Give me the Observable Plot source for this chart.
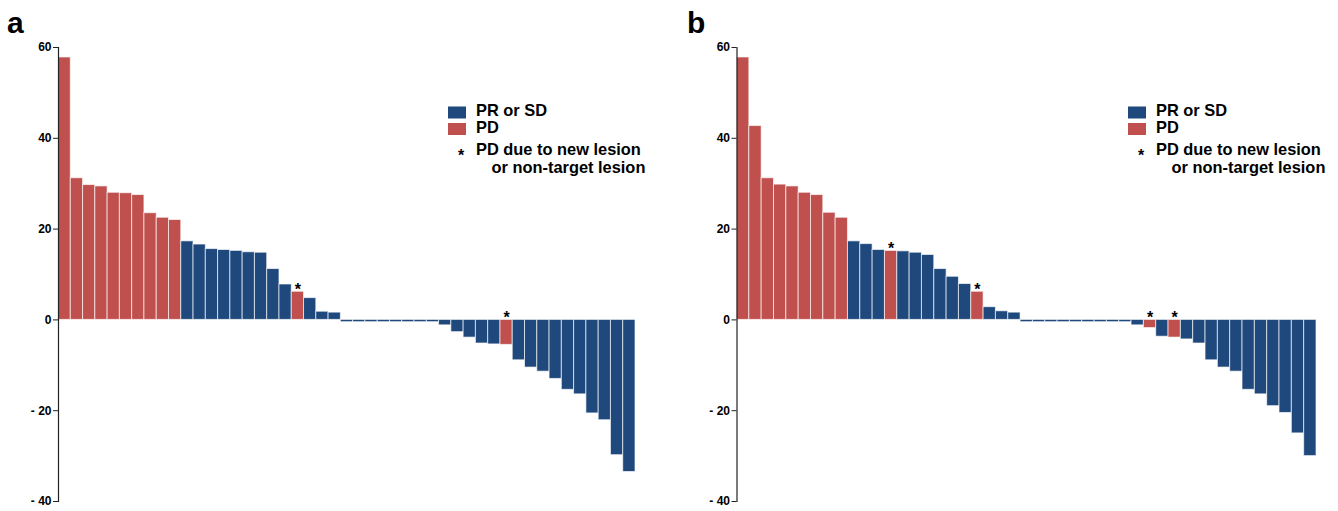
<!DOCTYPE html>
<html><head><meta charset="utf-8">
<script src="https://cdn.jsdelivr.net/npm/d3@7"></script>
<script src="https://cdn.jsdelivr.net/npm/@observablehq/plot@0.6"></script>
<style>
body{margin:0;background:#fff;font-family:"Liberation Sans",Arial,sans-serif;}
#wrap{position:relative;width:1338px;height:511px;overflow:hidden;}
.panel{position:absolute;top:0;}
#overlay{position:absolute;left:0;top:0;pointer-events:none;}
</style></head><body><div id="wrap"></div>
<script>
// ---------- data ----------
const responses = ["PR or SD", "PD"];
const responseColors = ["#1f497d", "#c0504d"];
const yTicks = [-40, -20, 0, 20, 40, 60];
const panelLabels = ["a", "b"];
const legendLines = ["PR or SD", "PD", "PD due to new lesion", "or non-target lesion"];

// Panel a: best % change per patient (rank 1..47)
const aValues = [57.8, 31.2, 29.7, 29.4, 28.0, 27.9, 27.5, 23.5, 22.5, 22.0,
  17.3, 16.6, 15.6, 15.4, 15.2, 14.9, 14.8, 11.2, 7.8, 6.2,
  4.8, 1.8, 1.6, -0.5, -0.5, -0.5, -0.5, -0.5, -0.5, -0.5,
  -0.5, -1.2, -2.7, -3.9, -5.2, -5.4, -5.5, -8.9, -10.5, -11.4,
  -13.0, -15.4, -16.4, -20.6, -22.1, -29.8, -33.5];
const aPD = [1, 2, 3, 4, 5, 6, 7, 8, 9, 10, 20, 37];
const aStar = [20, 37];

// Panel b
const bValues = [57.8, 42.7, 31.2, 29.8, 29.4, 28.0, 27.5, 23.6, 22.5, 17.3,
  16.7, 15.4, 15.2, 15.1, 14.8, 14.3, 11.2, 9.5, 7.9, 6.2,
  2.8, 1.9, 1.6, -0.5, -0.5, -0.5, -0.5, -0.5, -0.5, -0.5,
  -0.5, -0.5, -1.2, -1.8, -3.7, -3.9, -4.3, -5.2, -8.9, -10.5,
  -11.4, -15.4, -16.4, -19.0, -20.5, -25.0, -30.0];
const bPD = [1, 2, 3, 4, 5, 6, 7, 8, 9, 13, 20, 34, 36];
const bStar = [13, 20, 34, 36];

// ---------- drawing ----------
const FONT = "'Liberation Sans', Arial, sans-serif";
function panel(values, pd, star, ml, mr) {
  const data = values.map((v, i) => ({
    i: i + 1, v,
    r: pd.includes(i + 1) ? "PD" : "PR or SD",
    s: star.includes(i + 1)
  }));
  return Plot.plot({
    width: 669, height: 511,
    marginTop: 47, marginBottom: 10, marginLeft: ml, marginRight: mr,
    x: {type: "band", domain: data.map(d => d.i), padding: 0, round: false, axis: null},
    y: {domain: [-40, 60]},
    color: {domain: responses, range: responseColors},
    style: {fontFamily: FONT, fontWeight: "bold", fontSize: "12px", color: "#000", background: "transparent", overflow: "visible"},
    marks: [
      Plot.barY(data, {x: "i", y: "v", fill: "r", stroke: "#ffffff", strokeOpacity: 0.65, strokeWidth: 1}),
      Plot.text(data.filter(d => d.s), {x: "i", y: d => Math.max(d.v, 0), text: () => "*", fontSize: 16, fontWeight: "bold", dy: -2, fill: "#000"}),
      Plot.frame({anchor: "left", stroke: "#222", strokeWidth: 1.2}),
      Plot.axisY({ticks: yTicks, tickFormat: d => d < 0 ? "- " + Math.abs(d) : String(d),
        tickSize: 5, tickPadding: 2, label: null, stroke: "#222", fill: "#000", fontWeight: "bold", fontSize: 12})
    ]
  });
}

const wrap = document.getElementById("wrap");
const pa = panel(aValues, aPD, aStar, 58, 34);
pa.classList.add("panel"); pa.style.left = "0px";
const pb = panel(bValues, bPD, bStar, 67.5, 22);
pb.classList.add("panel"); pb.style.left = "669px";
wrap.appendChild(pa); wrap.appendChild(pb);

// overlay: panel letters and legends
const svg = d3.select(wrap).append("svg").attr("id", "overlay")
  .attr("width", 1338).attr("height", 511)
  .style("font-family", FONT).style("font-weight", "bold");

[[7, panelLabels[0]], [687, panelLabels[1]]].forEach(([x, t]) => {
  svg.append("text").attr("x", x).attr("y", 33).attr("font-size", 30).text(t);
});

[0, 680].forEach(o => {
  svg.append("rect").attr("x", 448 + o).attr("y", 106.5).attr("width", 18).attr("height", 12).attr("fill", responseColors[0]);
  svg.append("rect").attr("x", 448 + o).attr("y", 123).attr("width", 18).attr("height", 12).attr("fill", responseColors[1]);
  const t = (x, y, s) => svg.append("text").attr("x", x + o).attr("y", y).attr("font-size", 16.4).text(s);
  t(476, 115.7, legendLines[0]);
  t(476, 133.3, legendLines[1]);
  svg.append("text").attr("x", 461 + o).attr("y", 161).attr("font-size", 16).attr("text-anchor", "middle").text("*");
  t(476, 154.5, legendLines[2]);
  t(491.5, 172.5, legendLines[3]);
});
</script></body></html>
